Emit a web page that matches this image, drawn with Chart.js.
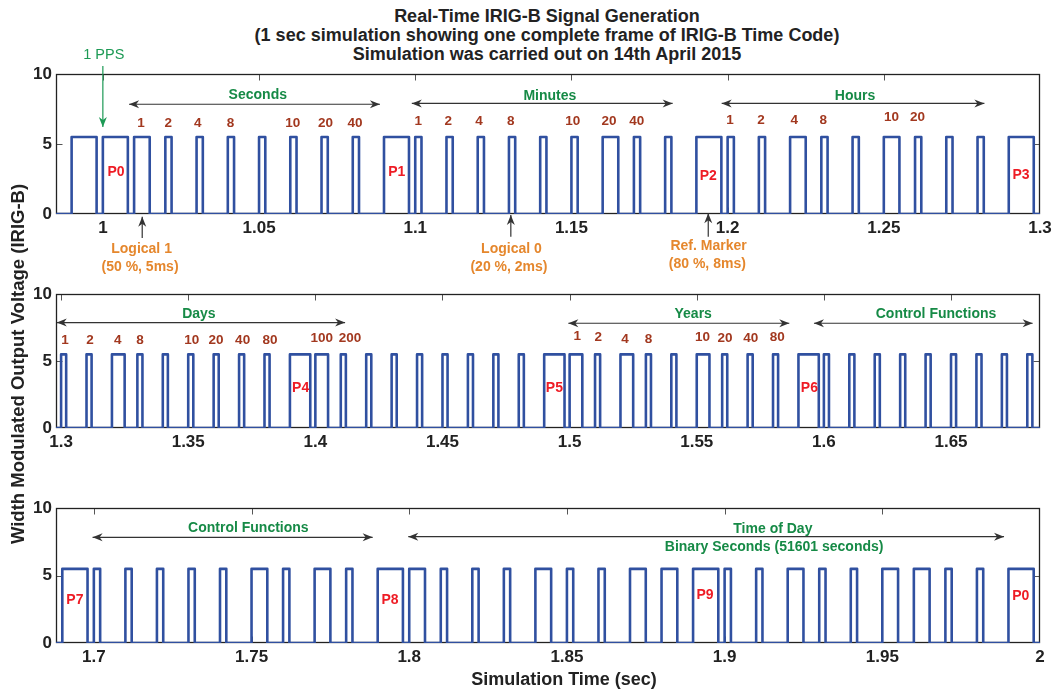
<!DOCTYPE html>
<html>
<head>
<meta charset="utf-8">
<title>Real-Time IRIG-B Signal Generation</title>
<script src="https://cdn.jsdelivr.net/npm/chart.js@4.4.1/dist/chart.umd.min.js"></script>
<style>
  html, body { margin: 0; padding: 0; background: #fff; }
  body { position: relative; width: 1056px; height: 694px; overflow: hidden;
         font-family: "Liberation Sans", Arial, sans-serif; color: #222; }
  canvas { position: absolute; left: 0; }
  #panel-top { top: 44px; }
  #panel-mid { top: 280px; }
  #panel-bot { top: 494px; }
  .title { position: absolute; left: 0; width: 1094px; top: 7px; text-align: center;
           font-weight: bold; font-size: 18px; line-height: 19px; }
  .xlabel { position: absolute; left: 264px; width: 600px; top: 669px; text-align: center;
            font-weight: bold; font-size: 18px; line-height: 20px; }
  .ylabel { position: absolute; left: -232px; width: 500px; top: 354px; text-align: center;
            font-weight: bold; font-size: 18.5px; line-height: 20px; transform: rotate(-90deg); }
</style>
</head>
<body>
<div class="title">Real-Time IRIG-B Signal Generation<br>(1 sec simulation showing one complete frame of IRIG-B Time Code)<br>Simulation was carried out on 14th April 2015</div>
<canvas id="panel-top" width="1056" height="262"></canvas>
<canvas id="panel-mid" width="1056" height="178"></canvas>
<canvas id="panel-bot" width="1056" height="179"></canvas>
<div class="ylabel">Width Modulated Output Voltage (IRIG-B)</div>
<div class="xlabel">Simulation Time (sec)</div>

<script>
// --- datos ---
const HIGH_LEVEL = 5.5;      // V, nivel alto del pulso
const SLOT = 0.01;           // s, un bit IRIG-B cada 10 ms

// ancho del pulso (ms) de cada ranura de 10 ms: 8 = marcador P, 5 = "1", 2 = "0"
const topStart = 0.99;
const topWidths = [8, 8, 5, 2, 2, 2, 2, 2, 2, 2,
                   8, 2, 2, 2, 2, 2, 2, 5, 2, 2,
                   8, 2, 2, 5, 2, 2, 5, 2, 2, 2,
                   8];
const midStart = 1.30;
const midWidths = [2, 2, 5, 2, 2, 2, 2, 2, 2,
                   8, 5, 2, 2, 2, 2, 2, 2, 2, 2,
                   8, 5, 2, 5, 2, 2, 5, 2, 2, 2,
                   8, 2, 2, 2, 2, 2, 2, 2, 2, 2];
const botStart = 1.69;
const botWidths = [8, 2, 2, 2, 2, 2, 5, 2, 5, 2,
                   8, 5, 2, 2, 2, 5, 2, 2, 5, 5,
                   8, 2, 2, 5, 2, 2, 5, 5, 2, 2,
                   8];

const topRange = [0.985, 1.3];
const midRange = [1.298, 1.685];
const botRange = [1.688, 2.0];

const topTicks = [1, 1.05, 1.1, 1.15, 1.2, 1.25, 1.3];
const midTicks = [1.3, 1.35, 1.4, 1.45, 1.5, 1.55, 1.6, 1.65];
const botTicks = [1.7, 1.75, 1.8, 1.85, 1.9, 1.95, 2];
const yTicks = [0, 5, 10];

// --- estilos ---
const FAMILY = '"Liberation Sans", Arial, sans-serif';
const INK = '#222';
const BLUE = '#3050a0';
const STYLE = {
    field:  { color: '#168a46', font: 'bold 14px' },
    weight: { color: '#a2381f', font: 'bold 13.5px' },
    marker: { color: '#ee1c25', font: 'bold 14px' },
    note:   { color: '#e5872d', font: 'bold 14px' },
    pps:    { color: '#1d9a55', font: '14.5px' }
};
const ARROW_GRAY = '#333';

// --- anotaciones (x en segundos, y en voltios) ---
const topNotes = [
    ['pps', '1 PPS', 1.0003, 11.38],
    ['field', 'Seconds', 1.0496, 8.46],
    ['field', 'Minutes', 1.1431, 8.44],
    ['field', 'Hours', 1.2408, 8.44],
    ['weight', '1', 1.0122, 6.51], ['weight', '2', 1.0209, 6.51], ['weight', '4', 1.0304, 6.51],
    ['weight', '8', 1.0409, 6.51], ['weight', '10', 1.0608, 6.51], ['weight', '20', 1.0713, 6.51],
    ['weight', '40', 1.0807, 6.51],
    ['weight', '1', 1.1010, 6.64], ['weight', '2', 1.1106, 6.64], ['weight', '4', 1.1204, 6.64],
    ['weight', '8', 1.1306, 6.64], ['weight', '10', 1.1504, 6.64], ['weight', '20', 1.1620, 6.64],
    ['weight', '40', 1.1709, 6.64],
    ['weight', '1', 1.2008, 6.68], ['weight', '2', 1.2107, 6.68], ['weight', '4', 1.2213, 6.68],
    ['weight', '8', 1.2306, 6.68], ['weight', '10', 1.2525, 6.93], ['weight', '20', 1.2608, 6.93],
    ['marker', 'P0', 1.0042, 2.96], ['marker', 'P1', 1.0941, 2.96],
    ['marker', 'P2', 1.1938, 2.73], ['marker', 'P3', 1.2939, 2.81],
    ['note', 'Logical 1', 1.0124, -2.54], ['note', '(50 %, 5ms)', 1.0119, -3.82],
    ['note', 'Logical 0', 1.1308, -2.5], ['note', '(20 %, 2ms)', 1.1300, -3.8],
    ['note', 'Ref. Marker', 1.1939, -2.32], ['note', '(80 %, 8ms)', 1.1935, -3.61]
];
const topArrows = [
    [1.0, 10.57, 1.0, 6.21, 'end', STYLE.pps.color],
    [1.0084, 7.84, 1.0887, 7.84, 'both', ARROW_GRAY],
    [1.0989, 7.9, 1.1824, 7.9, 'both', ARROW_GRAY],
    [1.1981, 7.9, 1.2822, 7.9, 'both', ARROW_GRAY],
    [1.0126, -1.71, 1.0126, -0.19, 'end', ARROW_GRAY],
    [1.1306, -1.62, 1.1306, -0.08, 'end', ARROW_GRAY],
    [1.1938, -1.62, 1.1938, 0.05, 'end', ARROW_GRAY]
];

const midNotes = [
    ['field', 'Days', 1.3542, 8.53],
    ['field', 'Years', 1.5486, 8.53],
    ['field', 'Control Functions', 1.6441, 8.53],
    ['weight', '1', 1.3015, 6.56], ['weight', '2', 1.3114, 6.56], ['weight', '4', 1.3223, 6.56],
    ['weight', '8', 1.3310, 6.56], ['weight', '10', 1.3514, 6.56], ['weight', '20', 1.3609, 6.56],
    ['weight', '40', 1.3714, 6.56], ['weight', '80', 1.3822, 6.56], ['weight', '100', 1.4025, 6.68],
    ['weight', '200', 1.4136, 6.68],
    ['weight', '1', 1.5030, 6.85], ['weight', '2', 1.5113, 6.8], ['weight', '4', 1.5218, 6.62],
    ['weight', '8', 1.5310, 6.62], ['weight', '10', 1.5523, 6.8], ['weight', '20', 1.5611, 6.7],
    ['weight', '40', 1.5712, 6.7], ['weight', '80', 1.5817, 6.8],
    ['marker', 'P4', 1.3942, 2.96], ['marker', 'P5', 1.4940, 2.96], ['marker', 'P6', 1.5943, 2.96]
];
const midArrows = [
    [1.2983, 7.88, 1.4117, 7.88, 'both', ARROW_GRAY],
    [1.4995, 7.83, 1.5864, 7.83, 'both', ARROW_GRAY],
    [1.5961, 7.83, 1.6821, 7.83, 'both', ARROW_GRAY]
];

const botNotes = [
    ['field', 'Control Functions', 1.7490, 8.49],
    ['field', 'Time of Day', 1.9153, 8.43],
    ['field', 'Binary Seconds (51601 seconds)', 1.9157, 7.12],
    ['marker', 'P7', 1.6940, 3.17], ['marker', 'P8', 1.7939, 3.17],
    ['marker', 'P9', 1.8938, 3.52], ['marker', 'P0', 1.9939, 3.45]
];
const botArrows = [
    [1.6996, 7.84, 1.7884, 7.84, 'both', ARROW_GRAY],
    [1.7997, 7.89, 1.9886, 7.89, 'both', ARROW_GRAY]
];

// --- construcción de la forma de onda ---
const buildTrace = (start, widths, range) => {
    const pts = [{ x: range[0], y: 0 }];
    widths.forEach((w, i) => {
        const t0 = +(start + i * SLOT).toFixed(4);
        const t1 = +(t0 + w / 1000).toFixed(4);
        pts.push({ x: t0, y: 0 }, { x: t0, y: HIGH_LEVEL }, { x: t1, y: HIGH_LEVEL }, { x: t1, y: 0 });
    });
    pts.push({ x: range[1], y: 0 });
    return pts;
};

const drawHead = (ctx, tx, ty, ang, color) => {
    const len = 10, half = 4, notch = 3;
    ctx.save();
    ctx.translate(tx, ty);
    ctx.rotate(ang);
    ctx.fillStyle = color;
    ctx.beginPath();
    ctx.moveTo(0, 0);
    ctx.lineTo(-len, -half);
    ctx.lineTo(-len + notch, 0);
    ctx.lineTo(-len, half);
    ctx.closePath();
    ctx.fill();
    ctx.restore();
};

// caja estilo MATLAB con marcas hacia dentro
const framePlugin = {
    id: 'frame',
    beforeDatasetsDraw(chart) {
        const { ctx, chartArea: a, scales: { x, y } } = chart;
        const L = Math.round(a.left) + 0.5, R = Math.round(a.right) - 0.5;
        const T = Math.round(a.top) + 0.5, B = Math.round(a.bottom) - 0.5;
        ctx.save();
        ctx.strokeStyle = '#555';
        ctx.lineWidth = 1;
        ctx.beginPath();
        x.ticks.forEach(t => {
            const px = Math.round(x.getPixelForValue(t.value)) + 0.5;
            if (px <= L + 1 || px >= R - 1) return;
            ctx.moveTo(px, T); ctx.lineTo(px, T + 6);
            ctx.moveTo(px, B); ctx.lineTo(px, B - 6);
        });
        y.ticks.forEach(t => {
            const py = Math.round(y.getPixelForValue(t.value)) + 0.5;
            if (py <= T + 1 || py >= B - 1) return;
            ctx.moveTo(L, py); ctx.lineTo(L + 6, py);
            ctx.moveTo(R, py); ctx.lineTo(R - 6, py);
        });
        ctx.stroke();
        ctx.strokeStyle = INK;
        ctx.lineWidth = 1.3;
        ctx.strokeRect(L, T, R - L, B - T);
        ctx.restore();
    }
};

const notesPlugin = (notes, arrows) => ({
    id: 'notes',
    afterDraw(chart) {
        const { ctx, scales: { x, y } } = chart;
        ctx.save();
        arrows.forEach(([x1, y1, x2, y2, heads, color]) => {
            const p1 = [x.getPixelForValue(x1), y.getPixelForValue(y1)];
            const p2 = [x.getPixelForValue(x2), y.getPixelForValue(y2)];
            const ang = Math.atan2(p2[1] - p1[1], p2[0] - p1[0]);
            ctx.strokeStyle = color;
            ctx.lineWidth = 1.2;
            ctx.beginPath();
            ctx.moveTo(p1[0], p1[1]);
            ctx.lineTo(p2[0], p2[1]);
            ctx.stroke();
            drawHead(ctx, p2[0], p2[1], ang, color);
            if (heads === 'both') drawHead(ctx, p1[0], p1[1], ang + Math.PI, color);
        });
        ctx.textAlign = 'center';
        ctx.textBaseline = 'middle';
        notes.forEach(([kind, text, vx, vy]) => {
            const s = STYLE[kind];
            ctx.font = `${s.font} ${FAMILY}`;
            ctx.fillStyle = s.color;
            ctx.fillText(text, x.getPixelForValue(vx), y.getPixelForValue(vy));
        });
        ctx.restore();
    }
});

const TICK_FONT = { family: FAMILY, size: 17, weight: 'bold' };

const makePanel = (id, start, widths, range, ticks, notes, arrows, padTop, padBottom) => new Chart(
    document.getElementById(id), {
        type: 'line',
        data: {
            datasets: [{
                data: buildTrace(start, widths, range),
                borderColor: BLUE,
                borderWidth: 2.6,
                borderJoinStyle: 'round',
                pointRadius: 0,
                tension: 0,
                fill: false
            }]
        },
        options: {
            responsive: false,
            animation: false,
            devicePixelRatio: 1,
            events: [],
            layout: { autoPadding: false, padding: { left: 0, right: 16, top: padTop, bottom: padBottom } },
            plugins: { legend: { display: false }, tooltip: { enabled: false } },
            scales: {
                x: {
                    type: 'linear', min: range[0], max: range[1],
                    grid: { display: false, drawTicks: false },
                    border: { display: false },
                    ticks: { font: TICK_FONT, color: INK, padding: 4, maxRotation: 0, autoSkip: false,
                             callback: v => String(v) },
                    afterBuildTicks: s => { s.ticks = ticks.map(v => ({ value: v })); },
                    afterFit: s => { s.height = 30; }
                },
                y: {
                    type: 'linear', min: 0, max: 10,
                    grid: { display: false, drawTicks: false },
                    border: { display: false },
                    ticks: { font: TICK_FONT, color: INK, padding: 4, callback: v => String(v) },
                    afterBuildTicks: s => { s.ticks = yTicks.map(v => ({ value: v })); },
                    afterFit: s => { s.width = 56; }
                }
            }
        },
        plugins: [framePlugin, notesPlugin(notes, arrows)]
    });

makePanel('panel-top', topStart, topWidths, topRange, topTicks, topNotes, topArrows, 30, 62);
makePanel('panel-mid', midStart, midWidths, midRange, midTicks, midNotes, midArrows, 10, 0);
makePanel('panel-bot', botStart, botWidths, botRange, botTicks, botNotes, botArrows, 10, 0);
</script>
</body>
</html>
